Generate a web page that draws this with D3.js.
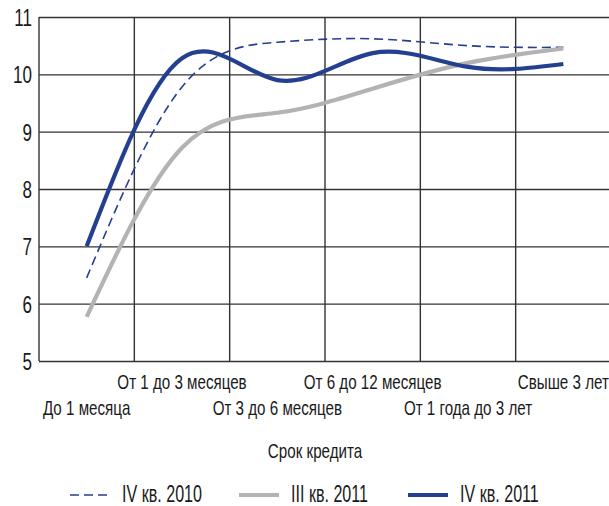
<!DOCTYPE html>
<html>
<head>
<meta charset="utf-8">
<script src="https://cdn.jsdelivr.net/npm/d3@7"></script>
<style>
  body { margin: 0; background: #fff; }
  text { font-family: "Liberation Sans", Arial, sans-serif; fill: #1a1a1a; }
</style>
</head>
<body>
<script>
// categories (срок кредита) and series
var categories = ['До 1 месяца', 'От 1 до 3 месяцев', 'От 3 до 6 месяцев',
                  'От 6 до 12 месяцев', 'От 1 года до 3 лет', 'Свыше 3 лет'];
var seriesNames = ['IV кв. 2010', 'III кв. 2011', 'IV кв. 2011'];
var q4_2010 = [6.45, 9.78, 10.56, 10.62, 10.50, 10.47];
var q3_2011 = [5.77, 8.72, 9.33, 9.75, 10.20, 10.45];
var q4_2011 = [7.00, 10.28, 9.90, 10.37, 10.13, 10.18];
var yTicks = [5, 6, 7, 8, 9, 10, 11];

var width = 609, height = 506;
var plotLeft = 39, plotRight = 611, plotTop = 17, plotBottom = 361;
var blue = '#243f8f', grey = '#b3b3b3', gridColor = '#333';

var svg = d3.select('body').append('svg')
    .attr('width', width)
    .attr('height', height);

var x = d3.scaleBand()
    .domain(categories)
    .range([plotLeft, plotRight]);

var y = d3.scaleLinear()
    .domain([5, 11])
    .range([plotBottom, plotTop]);

// horizontal grid + y labels
var yAxis = svg.append('g')
    .attr('transform', `translate(${plotLeft},0)`)
    .call(d3.axisLeft(y).tickValues(yTicks).tickSize(-(plotRight - plotLeft)).tickFormat(d3.format('d')));
yAxis.select('.domain').remove();
yAxis.selectAll('line')
    .attr('stroke', gridColor)
    .attr('stroke-width', 1.4);
yAxis.selectAll('text')
    .attr('font-size', 24)
    .attr('fill', '#1a1a1a')
    .attr('font-family', '"Liberation Sans", Arial, sans-serif')
    .attr('x', -7 / 0.71)
    .attr('dy', '0.36em')
    .attr('transform', 'scale(0.71,1)');

// vertical grid at band edges
var edges = categories.map((d) => x(d)).concat([plotRight]);
svg.append('g').selectAll('line')
    .data(edges)
    .enter().append('line')
    .attr('x1', (d) => d).attr('x2', (d) => d)
    .attr('y1', plotTop).attr('y2', plotBottom)
    .attr('stroke', gridColor)
    .attr('stroke-width', 1.4);

// category labels, staggered in two rows
svg.append('g').selectAll('text')
    .data(categories)
    .enter().append('text')
    .attr('transform', (d, i) => `translate(${x(d) + x.bandwidth() / 2},${i % 2 ? 389 : 415}) scale(0.74,1)`)
    .attr('text-anchor', 'middle')
    .attr('font-size', 20.5)
    .text((d) => d);

svg.append('text')
    .attr('transform', 'translate(315,458) scale(0.74,1)')
    .attr('text-anchor', 'middle')
    .attr('font-size', 20.5)
    .text('Срок кредита');

// lines
var line = d3.line()
    .x((d, i) => x(categories[i]) + x.bandwidth() / 2)
    .y((d) => y(d))
    .curve(d3.curveNatural);

var styles = [
    { data: q4_2010, color: blue, width: 1.6, dash: '9,5' },
    { data: q3_2011, color: grey, width: 4.2, dash: null },
    { data: q4_2011, color: blue, width: 4.2, dash: null }
];

svg.append('g').selectAll('path')
    .data(styles)
    .enter().append('path')
    .attr('d', (s) => line(s.data))
    .attr('fill', 'none')
    .attr('stroke', (s) => s.color)
    .attr('stroke-width', (s) => s.width)
    .attr('stroke-dasharray', (s) => s.dash);

// legend
var legend = svg.append('g').selectAll('g')
    .data(styles)
    .enter().append('g')
    .attr('transform', (s, i) => `translate(${70 + i * 169},495)`);

legend.append('line')
    .attr('x1', 0).attr('x2', 40)
    .attr('stroke', (s) => s.color)
    .attr('stroke-width', (s) => s.width)
    .attr('stroke-dasharray', (s) => s.dash);

legend.append('text')
    .attr('transform', 'translate(52,7) scale(0.7,1)')
    .attr('font-size', 23)
    .text((s, i) => seriesNames[i]);
</script>
</body>
</html>
